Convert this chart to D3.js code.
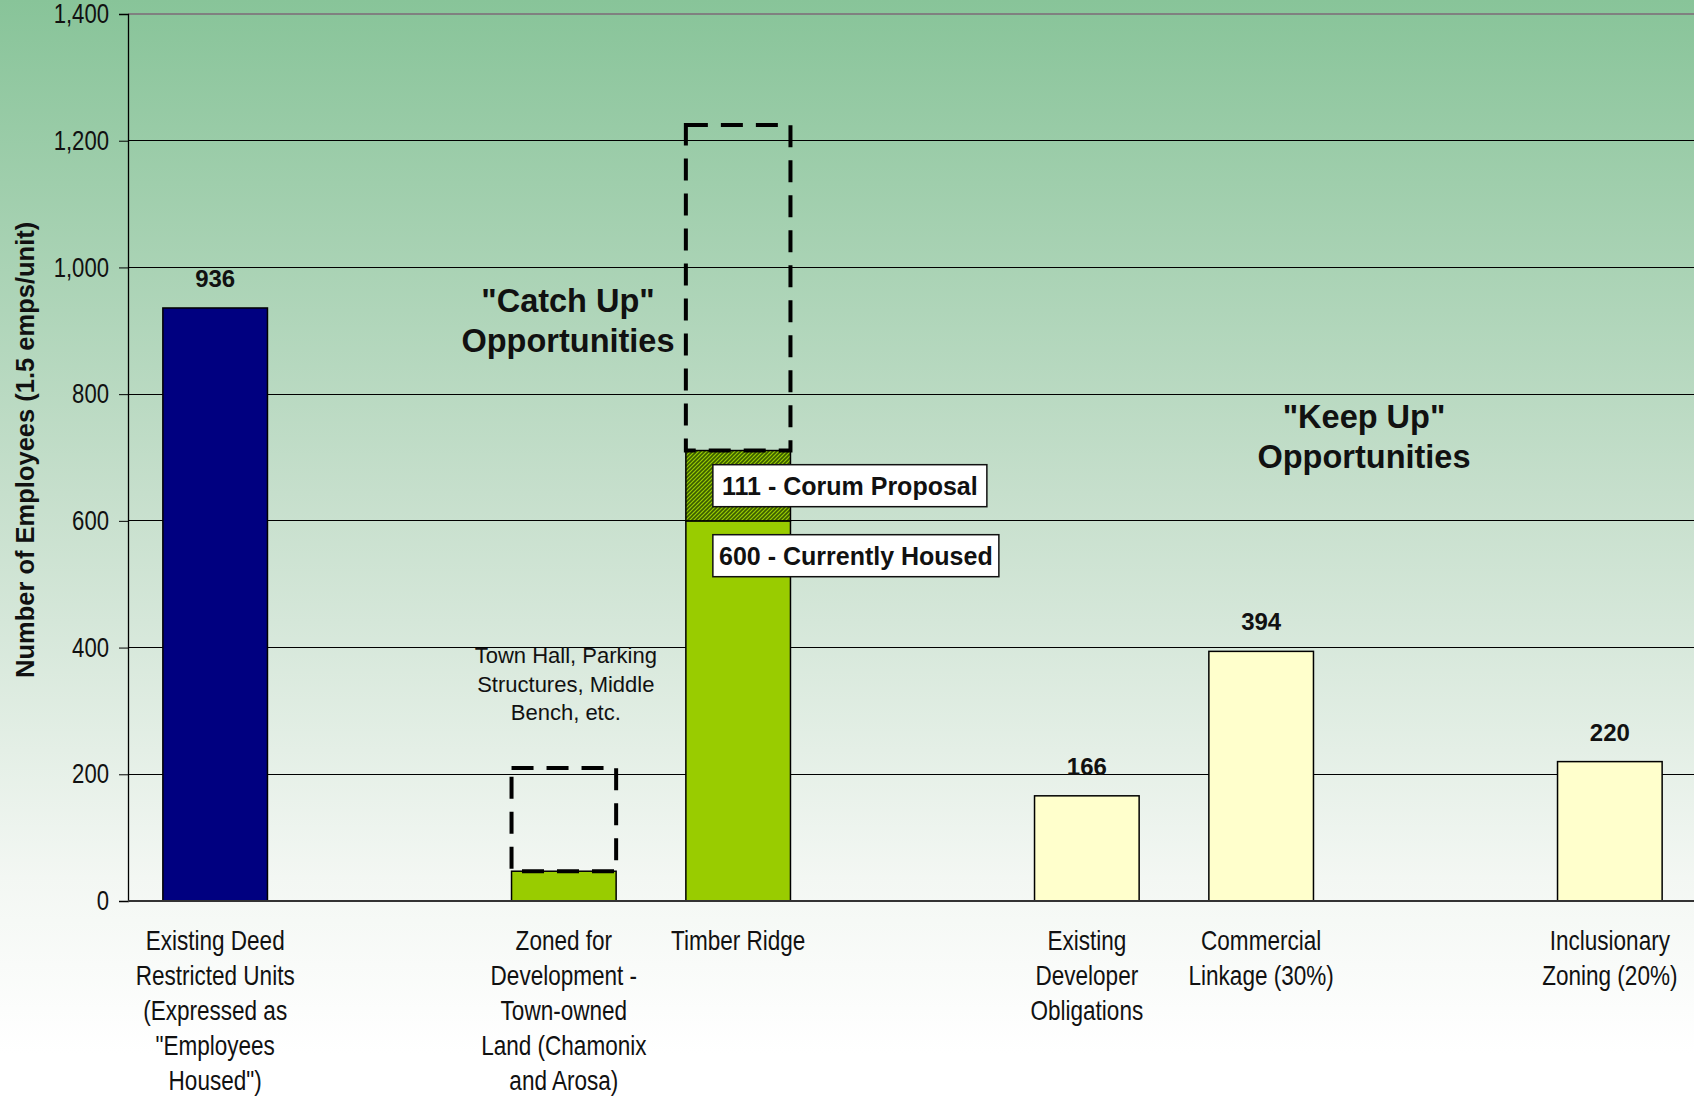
<!DOCTYPE html>
<html>
<head>
<meta charset="utf-8">
<script src="https://cdn.jsdelivr.net/npm/d3@7"></script>
<style>
html,body{margin:0;padding:0;overflow:hidden;background:#fff;}
svg{display:block;}
</style>
</head>
<body>
<svg id="chart" width="1694" height="1097"></svg>
<script>
// ---------- data ----------
const categories = [
  "Existing Deed Restricted Units (Expressed as \"Employees Housed\")",
  "",
  "Zoned for Development - Town-owned Land (Chamonix and Arosa)",
  "Timber Ridge",
  "",
  "Existing Developer Obligations",
  "Commercial Linkage (30%)",
  "",
  "Inclusionary Zoning (20%)"
];
const categoryLines = [
  ["Existing Deed", "Restricted Units", "(Expressed as", "\"Employees", "Housed\")"],
  [],
  ["Zoned for", "Development -", "Town-owned", "Land (Chamonix", "and Arosa)"],
  ["Timber Ridge"],
  [],
  ["Existing", "Developer", "Obligations"],
  ["Commercial", "Linkage (30%)"],
  [],
  ["Inclusionary", "Zoning (20%)"]
];
const groups = ["existing", null, "catchup", "catchup", null, "keepup", "keepup", null, "keepup"];
const baseValues = [936, null, 47, 600, null, 166, 394, null, 220];
const proposalValues = [null, null, null, 111, null, null, null, null, null];
const potentialValues = [null, null, 210, 1225, null, null, null, null, null];
const valueLabels = ["936", null, null, null, null, "166", "394", null, "220"];
const yTicks = [0, 200, 400, 600, 800, 1000, 1200, 1400];
const yTitle = "Number of Employees (1.5 emps/unit)";
const boxLabels = ["111 - Corum Proposal", "600 - Currently Housed"];
const noteZoned = ["Town Hall, Parking", "Structures, Middle", "Bench, etc."];
const catchUpText = ["\"Catch Up\"", "Opportunities"];
const keepUpText = ["\"Keep Up\"", "Opportunities"];

// ---------- styles ----------
const colors = {existing: "#000080", catchup: "#99cc00", keepup: "#ffffcc"};
const sans = "'Liberation Sans',Arial,sans-serif";
const NARROW = 0.82; // horizontal squeeze to mimic Arial Narrow

const W = 1694, H = 1097;
const svg = d3.select("#chart");
const defs = svg.append("defs");

const grad = defs.append("linearGradient").attr("id", "bg")
  .attr("x1", 0).attr("y1", 0).attr("x2", 0).attr("y2", 1);
grad.append("stop").attr("offset", "0%").attr("stop-color", "#88c499");
grad.append("stop").attr("offset", "45%").attr("stop-color", "#c6dfcc");
grad.append("stop").attr("offset", "80%").attr("stop-color", "#f3f7f3");
grad.append("stop").attr("offset", "96%").attr("stop-color", "#ffffff");

const pat = defs.append("pattern").attr("id", "hatch")
  .attr("patternUnits", "userSpaceOnUse").attr("width", 4).attr("height", 4);
pat.append("rect").attr("width", 4).attr("height", 4).attr("fill", "#99cc00");
pat.append("path").attr("d", "M-1,1 l2,-2 M0,4 l4,-4 M3,5 l2,-2")
  .attr("stroke", "#3a5c00").attr("stroke-width", 1.6);

svg.append("rect").attr("width", W).attr("height", H).attr("fill", "url(#bg)");

const x0 = 128;
const x = d3.scaleBand().domain(d3.range(categories.length))
  .range([x0, 1697]).paddingInner(0.4).paddingOuter(0.2);
const y = d3.scaleLinear().domain([0, 1400]).range([901, 14]);

// gridlines
svg.append("g").selectAll("line").data(yTicks.filter(t => t > 0)).join("line")
  .attr("x1", x0).attr("x2", W)
  .attr("y1", d => y(d)).attr("y2", d => y(d))
  .attr("stroke", d => d === 1400 ? "#808080" : "#000")
  .attr("stroke-width", d => d === 1400 ? 2 : 1)
  .attr("shape-rendering", "crispEdges");

// y axis
const yAxis = d3.axisLeft(y).tickValues(yTicks).tickSize(9).tickPadding(10)
  .tickFormat(d3.format(","));
const ga = svg.append("g").attr("transform", `translate(${x0},0)`).call(yAxis);
ga.select(".domain").attr("stroke", "#000").attr("stroke-width", 1.3);
ga.selectAll(".tick line").attr("stroke", "#000");
ga.selectAll(".tick text")
  .attr("font-family", sans).attr("font-size", 27).attr("fill", "#111")
  .attr("x", null)
  .attr("transform", `translate(-19,0) scale(${NARROW},1)`);

// y title
svg.append("text")
  .attr("transform", "translate(34,678) rotate(-90)")
  .attr("text-anchor", "start")
  .attr("font-family", sans).attr("font-weight", "bold").attr("font-size", 25.5)
  .attr("fill", "#111").text(yTitle);

const idx = d3.range(categories.length);

// base bars
svg.append("g").selectAll("rect").data(idx.filter(i => baseValues[i] != null)).join("rect")
  .attr("x", i => x(i)).attr("width", x.bandwidth())
  .attr("y", i => y(baseValues[i])).attr("height", i => y(0) - y(baseValues[i]))
  .attr("fill", i => colors[groups[i]])
  .attr("stroke", "#000").attr("stroke-width", 1.5);

// proposal (hatched) segment
svg.append("g").selectAll("rect").data(idx.filter(i => proposalValues[i] != null)).join("rect")
  .attr("x", i => x(i)).attr("width", x.bandwidth())
  .attr("y", i => y(baseValues[i] + proposalValues[i]))
  .attr("height", i => y(baseValues[i]) - y(baseValues[i] + proposalValues[i]))
  .attr("fill", "url(#hatch)")
  .attr("stroke", "#000").attr("stroke-width", 1.5);

// potential dashed boxes
svg.append("g").selectAll("rect").data(idx.filter(i => potentialValues[i] != null)).join("rect")
  .attr("x", i => x(i)).attr("width", x.bandwidth())
  .attr("y", i => y(potentialValues[i]))
  .attr("height", i => y(baseValues[i] + (proposalValues[i] || 0)) - y(potentialValues[i]))
  .attr("fill", "none")
  .attr("stroke", "#000").attr("stroke-width", 4)
  .attr("stroke-dasharray", "22,13");

// x axis baseline
svg.append("line").attr("x1", x0).attr("x2", W).attr("y1", y(0)).attr("y2", y(0))
  .attr("stroke", "#333").attr("stroke-width", 2);

// value labels
svg.append("g").selectAll("text").data(idx.filter(i => valueLabels[i])).join("text")
  .attr("x", i => x(i) + x.bandwidth() / 2)
  .attr("y", i => y(baseValues[i]) - 21)
  .attr("text-anchor", "middle")
  .attr("font-family", sans).attr("font-weight", "bold").attr("font-size", 24)
  .attr("fill", "#111").text(i => valueLabels[i]);

// category labels (narrow)
const cg = svg.append("g");
idx.forEach(i => {
  const cx = x(i) + x.bandwidth() / 2;
  const t = cg.append("text")
    .attr("transform", `translate(${cx},0) scale(${NARROW},1)`)
    .attr("text-anchor", "middle")
    .attr("font-family", sans).attr("font-size", 27.5).attr("fill", "#111");
  categoryLines[i].forEach((ln, k) => {
    t.append("tspan").attr("x", 0).attr("y", 950 + k * 35).text(ln);
  });
});

// boxes for Timber Ridge stack
const ti = 3;
const boxData = [
  {text: boxLabels[0], v: baseValues[ti] + proposalValues[ti] / 2, w: 274},
  {text: boxLabels[1], v: baseValues[ti] - 55, w: 286}
];
const bg = svg.append("g");
boxData.forEach(b => {
  const cy = y(b.v);
  const bx = x(ti) + 27;
  bg.append("rect").attr("x", bx).attr("y", cy - 21).attr("width", b.w).attr("height", 42)
    .attr("fill", "#fff").attr("stroke", "#111").attr("stroke-width", 1.5);
  bg.append("text").attr("x", bx + b.w / 2).attr("y", cy + 9)
    .attr("text-anchor", "middle")
    .attr("font-family", sans).attr("font-weight", "bold").attr("font-size", 25)
    .attr("fill", "#111").text(b.text);
});

// note above zoned bar
const zi = 2;
const nt = svg.append("text").attr("text-anchor", "middle")
  .attr("font-family", sans).attr("font-size", 22).attr("fill", "#111");
noteZoned.forEach((ln, k) => {
  nt.append("tspan").attr("x", x(zi) + x.bandwidth() / 2 + 2).attr("y", 663 + k * 28.5).text(ln);
});

// group titles
function groupTitle(lines, cx, y0) {
  const t = svg.append("text").attr("text-anchor", "middle")
    .attr("font-family", sans).attr("font-weight", "bold").attr("font-size", 32.5).attr("fill", "#111");
  lines.forEach((ln, k) => t.append("tspan").attr("x", cx).attr("y", y0 + k * 40).text(ln));
}
groupTitle(catchUpText, 568, 312);
groupTitle(keepUpText, 1364, 428);
</script>
</body>
</html>
